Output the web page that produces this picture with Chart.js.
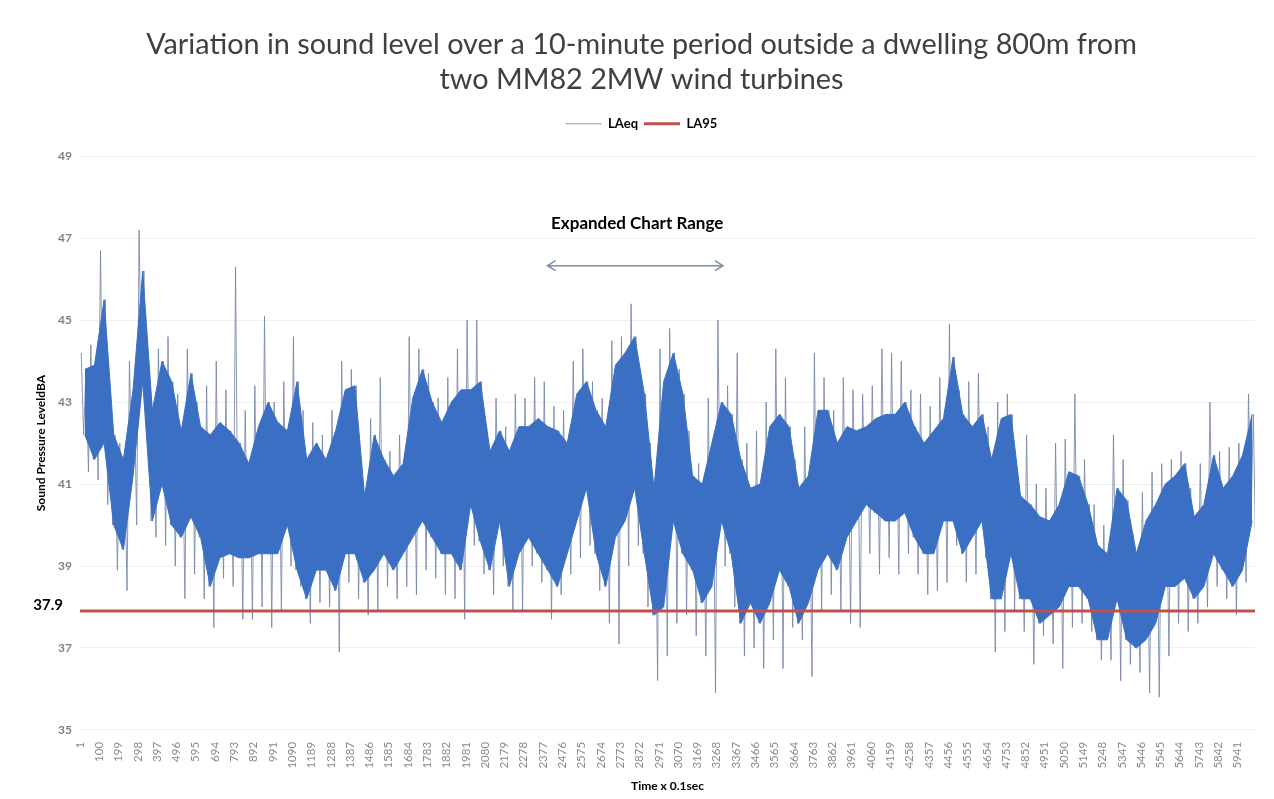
<!DOCTYPE html>
<html>
<head>
<meta charset="utf-8">
<script src="https://cdn.jsdelivr.net/npm/chart.js@4.4.1/dist/chart.umd.min.js"></script>
<style>
  html, body { margin: 0; padding: 0; background: #fff; }
</style>
</head>
<body>
<canvas id="myChart" width="1274" height="799"></canvas>
<script>
// x axis tick labels (sample number, 0.1 s each)
const tickLabels = [1, 100, 199, 298, 397, 496, 595, 694, 793, 892, 991, 1090, 1189, 1288, 1387, 1486,
  1585, 1684, 1783, 1882, 1981, 2080, 2179, 2278, 2377, 2476, 2575, 2674, 2773, 2872, 2971, 3070,
  3169, 3268, 3367, 3466, 3565, 3664, 3763, 3862, 3961, 4060, 4159, 4258, 4357, 4456, 4555, 4654,
  4753, 4852, 4951, 5050, 5149, 5248, 5347, 5446, 5545, 5644, 5743, 5842, 5941];
const yTicks = [35, 37, 39, 41, 43, 45, 47, 49];

// LAeq, one reading per block of 49.5 samples
// dense part of the trace (upper / lower edge)
const bandTop = [43.8, 43.9, 45.5, 42.2, 41.6, 43.3, 46.2, 42.8, 44.0, 43.5,
  42.3, 43.7, 42.4, 42.2, 42.5, 42.3, 42.0, 41.5, 42.4, 43.0,
  42.5, 42.3, 43.5, 41.6, 42.0, 41.6, 42.3, 43.3, 43.4, 40.7,
  42.2, 41.6, 41.2, 41.5, 43.1, 43.8, 43.0, 42.5, 43.0, 43.3,
  43.3, 43.5, 41.8, 42.3, 41.8, 42.4, 42.4, 42.6, 42.4, 42.3,
  42.0, 43.2, 43.5, 42.8, 42.4, 43.9, 44.2, 44.6, 43.2, 40.9,
  43.5, 44.2, 43.2, 41.2, 41.0, 42.0, 43.0, 42.7, 41.6, 40.9,
  41.0, 42.4, 42.7, 42.4, 40.9, 41.2, 42.8, 42.8, 42.0, 42.4,
  42.3, 42.4, 42.6, 42.7, 42.7, 43.0, 42.4, 42.0, 42.3, 42.6,
  44.1, 42.7, 42.4, 42.7, 41.6, 42.6, 42.7, 40.7, 40.5, 40.2,
  40.1, 40.5, 41.3, 41.2, 40.5, 39.5, 39.3, 40.9, 40.6, 39.3,
  40.1, 40.5, 41.0, 41.2, 41.5, 40.2, 40.5, 41.7, 40.9, 41.2,
  41.7, 42.7];
const bandBot = [42.2, 41.6, 42.0, 40.0, 39.4, 41.2, 43.5, 40.1, 41.0, 40.0,
  39.7, 40.2, 39.7, 38.5, 39.2, 39.3, 39.2, 39.2, 39.3, 39.3,
  39.3, 40.0, 38.9, 38.2, 38.9, 38.9, 38.4, 39.3, 39.3, 38.6,
  38.9, 39.3, 38.9, 39.3, 39.7, 40.1, 39.7, 39.3, 39.3, 38.9,
  40.5, 39.6, 38.9, 40.1, 38.5, 39.3, 39.7, 39.3, 38.9, 38.5,
  39.3, 40.1, 40.9, 39.3, 38.5, 39.7, 40.1, 40.9, 39.3, 37.8,
  38.0, 40.1, 39.3, 38.9, 38.1, 38.5, 40.1, 39.3, 37.6, 38.1,
  37.6, 38.1, 38.9, 38.5, 37.6, 38.1, 38.9, 39.3, 38.9, 39.7,
  40.1, 40.5, 40.3, 40.1, 40.1, 40.3, 39.7, 39.3, 39.3, 40.1,
  40.1, 39.3, 39.7, 40.1, 38.2, 38.2, 39.3, 38.2, 38.2, 37.6,
  37.8, 38.0, 38.5, 38.5, 38.2, 37.2, 37.2, 38.2, 37.2, 37.0,
  37.2, 37.6, 38.5, 38.5, 38.7, 38.2, 38.5, 39.3, 38.9, 38.5,
  38.9, 40.1];
// highest and lowest spikes in each block
const peaks = [44.2, 44.4, 46.7, 43.0, 42.0, 44.0, 47.2, 44.0, 44.3, 44.6,
  43.2, 44.3, 43.0, 43.4, 44.0, 43.3, 46.3, 42.8, 43.4, 45.1,
  43.0, 43.5, 44.6, 42.8, 42.5, 42.2, 42.8, 44.0, 43.8, 41.5,
  42.6, 43.6, 41.8, 42.2, 44.6, 44.3, 43.7, 43.1, 43.6, 44.3,
  45.0, 45.0, 42.4, 43.1, 42.4, 43.2, 43.1, 43.6, 43.5, 42.9,
  42.8, 44.0, 44.3, 43.5, 43.1, 44.5, 44.6, 45.4, 43.6, 42.0,
  44.3, 44.8, 43.8, 42.3, 41.5, 43.1, 45.0, 43.4, 44.2, 42.0,
  42.3, 43.0, 44.3, 43.6, 41.6, 42.4, 44.2, 43.6, 42.8, 43.6,
  43.3, 43.2, 43.4, 44.3, 44.2, 44.0, 43.3, 43.2, 42.9, 43.6,
  44.9, 43.3, 43.5, 43.7, 42.4, 43.0, 43.2, 41.3, 42.2, 41.0,
  40.9, 42.0, 42.1, 43.2, 41.6, 40.5, 40.0, 42.2, 41.6, 39.8,
  40.8, 41.3, 41.5, 41.6, 41.8, 40.9, 41.5, 43.0, 41.8, 41.9,
  42.0, 43.2];
const troughs = [41.3, 41.1, 40.5, 38.9, 38.4, 40.0, 42.5, 39.7, 39.5, 39.0,
  38.2, 38.8, 38.2, 37.5, 38.7, 38.5, 37.7, 37.7, 38.0, 37.5,
  37.9, 39.0, 38.5, 37.6, 38.1, 38.0, 36.9, 38.6, 38.2, 37.8,
  37.9, 38.5, 38.2, 38.5, 38.3, 38.9, 38.7, 38.3, 38.2, 37.7,
  39.5, 38.8, 38.3, 39.0, 37.9, 37.9, 39.0, 38.6, 37.7, 38.3,
  38.8, 39.2, 39.5, 38.4, 37.6, 37.1, 39.0, 39.5, 38.0, 36.2,
  36.8, 37.6, 37.8, 37.3, 36.8, 35.9, 39.0, 38.0, 36.8, 37.0,
  36.5, 37.2, 36.5, 37.5, 37.2, 36.3, 37.9, 38.3, 37.9, 37.6,
  37.5, 39.3, 38.8, 39.2, 38.8, 39.3, 38.8, 38.3, 38.4, 38.6,
  39.5, 38.6, 38.8, 39.2, 36.9, 37.4, 37.9, 37.4, 36.6, 37.3,
  37.1, 36.5, 37.5, 37.6, 37.4, 36.7, 36.7, 36.2, 36.6, 36.4,
  35.9, 35.8, 36.8, 37.6, 37.4, 37.6, 38.0, 38.5, 38.2, 37.8,
  38.6, 39.3];
const la95Level = 37.9;

const blockSize = 49.5;
const lastSample = 6030;

const bandTopPts = bandTop.map((v, i) => ({ x: 1 + blockSize * (i + 0.5), y: v }));
const bandBotPts = bandBot.map((v, i) => ({ x: 1 + blockSize * (i + 0.5), y: v }));
// trace through the readings of each block: spike up, band low, band high, spike down
const tracePts = [];
peaks.forEach((p, i) => {
  tracePts.push({ x: 1 + blockSize * (i + 0.125), y: p });
  tracePts.push({ x: 1 + blockSize * (i + 0.375), y: bandBot[i] });
  tracePts.push({ x: 1 + blockSize * (i + 0.625), y: bandTop[i] });
  tracePts.push({ x: 1 + blockSize * (i + 0.875), y: troughs[i] });
});
const la95Pts = [{ x: 1, y: la95Level }, { x: lastSample, y: la95Level }];

const FONT = "Lato, 'Liberation Sans', sans-serif";
Chart.defaults.font.family = FONT;

const blue = '#3a6fc4';

// extra room under the legend
const legendGap = {
  id: 'legendGap',
  beforeInit(chart) {
    const fit = chart.legend.fit;
    chart.legend.fit = function () {
      fit.bind(chart.legend)();
      this.height += 16;
    };
  }
};

// text and arrow drawn over the plot
const notes = {
  id: 'notes',
  afterDraw(chart) {
    const ctx = chart.ctx;
    const xs = chart.scales.x, ys = chart.scales.y;
    ctx.save();
    ctx.fillStyle = '#000';
    ctx.font = "bold 17px " + FONT;
    ctx.textAlign = 'center';
    ctx.textBaseline = 'middle';
    ctx.fillText('Expanded Chart Range', xs.getPixelForValue(2860), ys.getPixelForValue(47.37));

    const x1 = xs.getPixelForValue(2400), x2 = xs.getPixelForValue(3300);
    const ay = ys.getPixelForValue(46.33);
    ctx.strokeStyle = '#7d8ca8';
    ctx.lineWidth = 1.5;
    ctx.beginPath();
    ctx.moveTo(x1, ay); ctx.lineTo(x2, ay);
    ctx.moveTo(x1 + 8, ay - 5); ctx.lineTo(x1, ay); ctx.lineTo(x1 + 8, ay + 5);
    ctx.moveTo(x2 - 8, ay - 5); ctx.lineTo(x2, ay); ctx.lineTo(x2 - 8, ay + 5);
    ctx.stroke();

    ctx.font = "bold 15px " + FONT;
    ctx.textAlign = 'right';
    ctx.fillText('37.9', chart.chartArea.left - 17, ys.getPixelForValue(la95Level) - 6);
    ctx.restore();
  }
};

new Chart(document.getElementById('myChart'), {
  type: 'line',
  data: {
    datasets: [
      {
        label: 'LAeq',
        data: tracePts,
        borderColor: 'rgba(118,134,168,0.85)',
        borderWidth: 1,
        pointRadius: 0,
        pointStyle: 'line',
        order: 2
      },
      {
        label: '_top',
        data: bandTopPts,
        borderColor: blue,
        borderWidth: 1,
        pointRadius: 0,
        fill: false,
        order: 1
      },
      {
        label: '_bot',
        data: bandBotPts,
        borderColor: blue,
        backgroundColor: blue,
        borderWidth: 1,
        pointRadius: 0,
        fill: '-1',
        order: 1
      },
      {
        label: 'LA95',
        data: la95Pts,
        borderColor: '#c0504d',
        borderWidth: 3,
        pointRadius: 0,
        pointStyle: 'line',
        order: 0
      }
    ]
  },
  options: {
    responsive: false,
    animation: false,
    layout: { padding: { left: 28, right: 19, bottom: 6 } },
    plugins: {
      title: {
        display: true,
        text: ['Variation in sound level over a 10-minute period outside a dwelling 800m from',
               'two MM82 2MW wind turbines'],
        color: '#404040',
        font: { size: 28.8, weight: 'normal', lineHeight: 1.22 },
        padding: { top: 27, bottom: 14 }
      },
      legend: {
        display: true,
        labels: {
          usePointStyle: true,
          pointStyleWidth: 36,
          color: '#000',
          font: { size: 13, weight: 'bold' },
          padding: 6,
          filter: item => !item.text.startsWith('_'),
          sort: (a, b) => a.datasetIndex - b.datasetIndex
        }
      },
      tooltip: { enabled: false }
    },
    scales: {
      x: {
        type: 'linear',
        min: 1,
        max: lastSample,
        afterBuildTicks: s => { s.ticks = tickLabels.map(v => ({ value: v })); },
        ticks: {
          autoSkip: false,
          minRotation: 90,
          maxRotation: 90,
          color: '#8a8a8a',
          font: { size: 11.5 },
          padding: 4,
          callback: v => String(v)
        },
        grid: { display: false },
        border: { display: false },
        title: {
          display: true,
          text: 'Time x 0.1sec',
          color: '#000',
          font: { size: 12, weight: 'bold' },
          padding: { top: 6, bottom: 0 }
        }
      },
      y: {
        min: 35,
        max: 49,
        afterBuildTicks: s => { s.ticks = yTicks.map(v => ({ value: v })); },
        afterFit: s => { s.width = 52; },
        ticks: {
          color: '#7f7f7f',
          font: { size: 12, weight: 'bold' },
          padding: 8
        },
        grid: { color: '#efefef', drawTicks: false },
        border: { display: false },
        title: {
          display: true,
          text: 'Sound Pressure LeveldBA',
          color: '#000',
          font: { size: 12, weight: 'bold' },
          padding: { top: 6, bottom: 0 }
        }
      }
    }
  },
  plugins: [legendGap, notes]
});
</script>
</body>
</html>
